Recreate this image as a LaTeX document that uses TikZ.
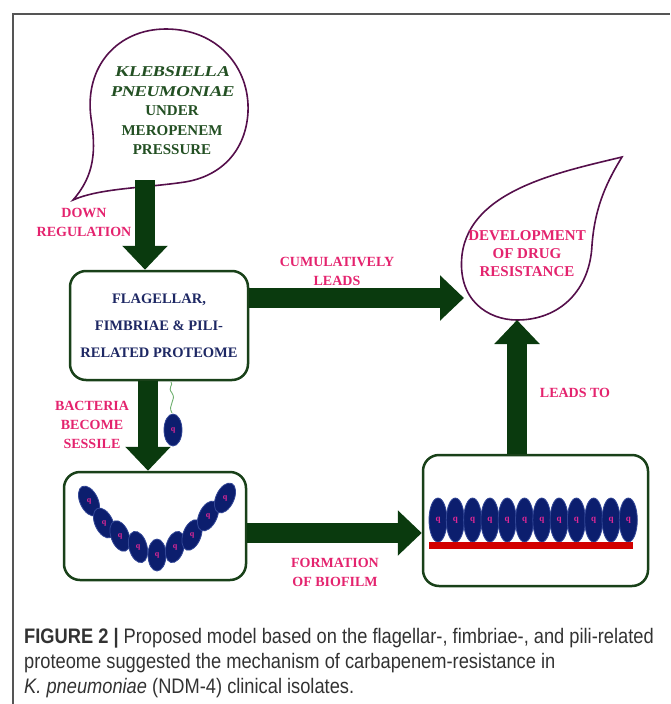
\documentclass[tikz,border=0pt]{standalone}
\usepackage{fontspec}
\setmainfont{Liberation Serif}
\newfontfamily\capfont[FakeStretch=0.87]{Liberation Sans}
\newfontfamily\wideslant[FakeSlant=0.2,FakeStretch=1.18]{Liberation Serif}
\usetikzlibrary{arrows.meta}

\definecolor{arrowgreen}{RGB}{10,58,14}
\definecolor{boxgreen}{RGB}{25,65,25}
\definecolor{textgreen}{RGB}{35,80,35}
\definecolor{labelpink}{RGB}{228,35,110}
\definecolor{textnavy}{RGB}{30,40,100}
\definecolor{bubblepurple}{RGB}{85,15,75}
\definecolor{cellblue}{RGB}{12,30,110}
\definecolor{celledge}{RGB}{50,70,150}
\definecolor{cellpink}{RGB}{225,40,150}
\definecolor{filmred}{RGB}{210,0,0}
\definecolor{framegray}{RGB}{85,85,85}
\definecolor{flagellum}{RGB}{110,175,110}
\definecolor{captext}{RGB}{50,50,50}

\tikzset{
  pics/cell/.style={code={
    \fill[cellblue, draw=celledge, line width=0.8pt] (0,0) ellipse [x radius=9, y radius=16];
    \node[text=cellpink, font=\bfseries\fontsize{8}{8}\selectfont, inner sep=0pt] (-glyph) {q};
  }},
  pics/filmcell/.style={code={
    \fill[cellblue, draw=celledge, line width=0.8pt] (0,0) ellipse [x radius=9, y radius=22];
    \node[text=cellpink, font=\bfseries\fontsize{9}{9}\selectfont, inner sep=0pt] (-glyph) {q};
  }}
}

\begin{document}
\begin{tikzpicture}[x=1pt,y=-1pt,
  bigarrow/.style={arrowgreen, line width=20pt, -{Triangle[length=24pt,width=44pt]}},
  stagebox/.style={draw=boxgreen, line width=2.5pt, rounded corners=16pt, fill=white},
  boxtext/.style={text=textnavy, font=\bfseries\fontsize{14.5}{27}\selectfont, align=center},
  pinklabel/.style={text=labelpink, font=\bfseries\fontsize{14}{19}\selectfont, align=center},
  bubble/.style={draw=bubblepurple, line width=1.6pt, fill=white},
  captionline/.style={anchor=base west, inner sep=0pt, text=captext, font=\capfont\fontsize{21}{24}\selectfont}
]
\useasboundingbox (0,0) rectangle (670,704);

% page frame
\draw[framegray, line width=1.5pt] (13,704) -- (13,14) -- (670,14);

% speech balloon: organism under antibiotic pressure
\draw[bubble] (73,200) .. controls (95,175) and (96,150) .. (91,118)
  .. controls (84,66) and (118,29) .. (166,29)
  .. controls (218,29) and (250,68) .. (248,112)
  .. controls (246,150) and (222,176) .. (185,182)
  .. controls (145,188) and (100,188) .. (73,200) -- cycle;
\node[text=textgreen, font=\bfseries\fontsize{15}{19.5}\selectfont, align=center] (kp) at (172,111)
  {{\wideslant KLEBSIELLA}\\ {\wideslant PNEUMONIAE}\\ UNDER\\ MEROPENEM\\ PRESSURE};
\coordinate (kpbase) at (145,180);

% drop: outcome
\draw[bubble] (622,157) .. controls (560,172) and (470,190) .. (462,255)
  .. controls (457,300) and (488,320) .. (517,320)
  .. controls (560,320) and (590,290) .. (592,245)
  .. controls (595,205) and (608,180) .. (622,157) -- cycle;
\node[pinklabel, font=\bfseries\fontsize{15}{18}\selectfont] (drs) at (527,254)
  {DEVELOPMENT\\ OF DRUG\\ RESISTANCE};
\coordinate (dropleft) at (464,298);
\coordinate (dropbase) at (517,320);

% stage boxes
\node[stagebox, boxtext, minimum width=178pt, minimum height=109pt] (box1) at (159,325.5)
  {FLAGELLAR,\\ FIMBRIAE \& PILI-\\ RELATED PROTEOME};
\node[stagebox, minimum width=182pt, minimum height=108pt] (box2) at (155,526) {};
\node[stagebox, minimum width=225pt, minimum height=131pt] (box3) at (535.5,520.5) {};
\coordinate (filmrow) at (0,533);

% connectors
\draw[bigarrow] (kpbase) -- (kpbase |- box1.north);
\draw[bigarrow] (dropleft -| box1.east) -- (dropleft);
\draw[bigarrow] ([xshift=-11pt]box1.south) -- ([xshift=-11pt]box1.south |- box2.north);
\draw[bigarrow] (box2.east |- filmrow) -- (box3.west |- filmrow);
\draw[bigarrow] (dropbase |- box3.north) -- (dropbase);

% connector labels
\node[pinklabel] (lbl1) at (84,222.5) {DOWN\\ REGULATION};
\node[pinklabel] (lbl2) at (337,271.5) {CUMULATIVELY\\ LEADS};
\node[pinklabel] (lbl3) at (92,425) {BACTERIA\\ BECOME\\ SESSILE};
\node[pinklabel] (lbl4) at (335,572) {FORMATION\\ OF BIOFILM};
\node[pinklabel] (lbl5) at (575,393) {LEADS TO};

% free-swimming cell with flagellum
\draw[flagellum, line width=0.9pt] (172,413) .. controls (167,405) and (177,400) .. (172,393)
  .. controls (167,387) and (174,385) .. (171,382);
\pic (free) at (173,430) {cell};

% cells settling in a V
\pic[rotate=25]  (v1) at (89,501) {cell};
\pic[rotate=25]  (v2) at (104,523) {cell};
\pic[rotate=20]  (v3) at (120,536) {cell};
\pic[rotate=15]  (v4) at (138,547) {cell};
\pic[rotate=0]   (v5) at (157,555) {cell};
\pic[rotate=-15] (v6) at (175,547) {cell};
\pic[rotate=-20] (v7) at (192,535) {cell};
\pic[rotate=-25] (v8) at (208,516) {cell};
\pic[rotate=-25] (v9) at (225,498) {cell};

% biofilm layer
\foreach \i in {0,...,11} {
  \pic (f\i) at ({438+17.3*\i},520) {filmcell};
}
\fill[filmred] (429,542) rectangle (633,549);

% caption
\node[captionline] (cap1) at (24,643) {{\bfseries FIGURE 2 |} Proposed model based on the flagellar-, fimbriae-, and pili-related};
\node[captionline] (cap2) at (24,668) {proteome suggested the mechanism of carbapenem-resistance in};
\node[captionline] (cap3) at (24,693) {\textit{K. pneumoniae} (NDM-4) clinical isolates.};
\end{tikzpicture}
\end{document}
